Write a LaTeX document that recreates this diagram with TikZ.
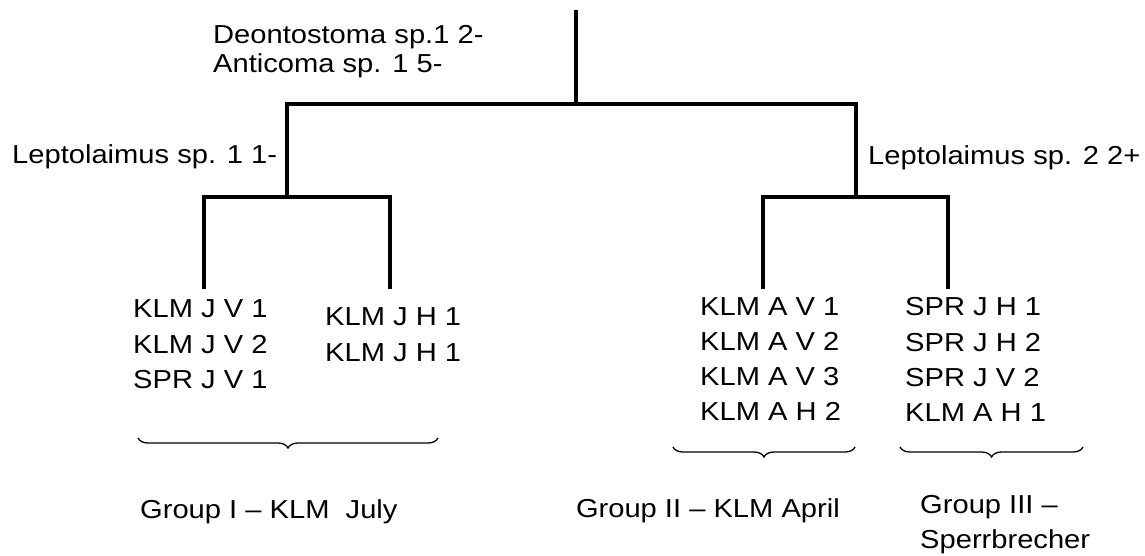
\documentclass[tikz,border=0pt]{standalone}
\usepackage{fontspec}
\newfontfamily\lblfont{Liberation Sans}[FakeStretch=1.12]
\usetikzlibrary{decorations.pathreplacing}
\tikzset{
  branch/.style={line width=4.2pt, line join=miter, line cap=butt},
  lbl/.style={anchor=base west, inner sep=0pt, font=\lblfont\fontsize{26}{30}\selectfont},
  lble/.style={lbl, anchor=base east},
  grpbrace/.style={decorate, decoration={brace, mirror, amplitude=10pt}, line width=1.3pt},
}
\begin{document}
\begin{tikzpicture}[x=1pt, y=-1pt]
\useasboundingbox (0,0) rectangle (1145,555);
% tree coordinates
\coordinate (top) at (576,10);
\coordinate (n0) at (576,104);
\coordinate (nL) at (287,104);
\coordinate (nR) at (856,104);
\coordinate (nL2) at (287,197);
\coordinate (nR2) at (856,197);
\coordinate (la) at (204,289);
\coordinate (lb) at (390,289);
\coordinate (rc) at (763,289);
\coordinate (rd) at (948,289);
% tree
\draw[branch] (top) -- (n0);
\draw[branch] (nL2) -- (nL) -- (nR) -- (nR2);
\draw[branch] (la) -- (la |- nL2) -- (lb |- nL2) -- (lb);
\draw[branch] (rc) -- (rc |- nR2) -- (rd |- nR2) -- (rd);
% branch labels
\node[lbl] (deo) at (213,43) {Deontostoma sp.1 2-};
\node[lbl] (anti) at (213,72) {Anticoma sp. 1 5-};
\node[lbl] (lep1) at (12,163) {Leptolaimus sp. 1 1-};
\node[lbl] (lep2) at (868,164) {Leptolaimus sp. 2 2+};
% leaf block A
\node[lbl] (a1) at (133,317) {KLM J V 1};
\node[lbl] (a2) at (133,353) {KLM J V 2};
\node[lbl] (a3) at (133,388) {SPR J V 1};
% leaf block B
\node[lbl] (b1) at (325,325) {KLM J H 1};
\node[lbl] (b2) at (325,361) {KLM J H 1};
% leaf block C
\node[lbl] (c1) at (700,315) {KLM A V 1};
\node[lbl] (c2) at (700,350) {KLM A V 2};
\node[lbl] (c3) at (700,385) {KLM A V 3};
\node[lbl] (c4) at (700,420) {KLM A H 2};
% leaf block D
\node[lbl] (d1) at (905,315) {SPR J H 1};
\node[lbl] (d2) at (905,351) {SPR J H 2};
\node[lbl] (d3) at (905,386) {SPR J V 2};
\node[lbl] (d4) at (905,421) {KLM A H 1};
% braces
\coordinate (br1a) at (138,438);
\coordinate (br1b) at (438,438);
\coordinate (br2a) at (673,447);
\coordinate (br2b) at (855,447);
\coordinate (br3a) at (900,447);
\coordinate (br3b) at (1083,447);
\draw[grpbrace] (br1a) -- (br1b);
\draw[grpbrace] (br2a) -- (br2b);
\draw[grpbrace] (br3a) -- (br3b);
% group labels
\node[lbl] (g1) at (140,518) {Group I – KLM\ \ July};
\node[lble] (g2) at (840,517) {Group II – KLM April};
\node[lbl] (g3a) at (920,513) {Group III –};
\node[lbl] (g3b) at (920,548) {Sperrbrecher};
\end{tikzpicture}
\end{document}
